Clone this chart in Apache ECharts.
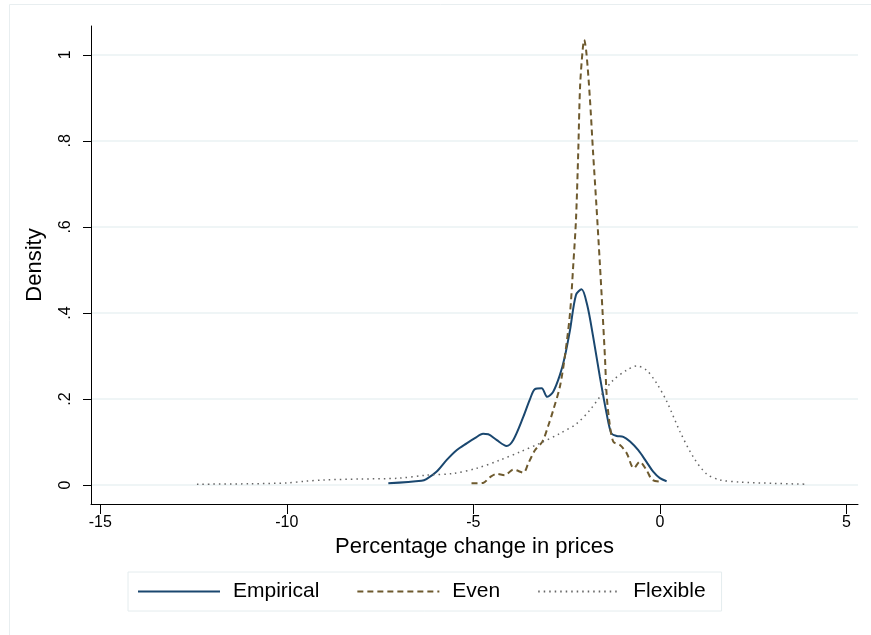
<!DOCTYPE html>
<html><head><meta charset="utf-8">
<script src="https://cdn.jsdelivr.net/npm/echarts@6/dist/echarts.min.js"></script>
<style>html,body{margin:0;padding:0;background:#fff}#c{width:871px;height:635px}</style>
</head><body><div id="c"></div>
<script>
const xTicks = [-15, -10, -5, 0, 5];
const yTicks = [0, 0.2, 0.4, 0.6, 0.8, 1];
const empirical = [
 [-7.28,0.004],[-6.39,0.010],[-6.26,0.014],[-5.99,0.031],[-5.72,0.058],[-5.45,0.081],[-5.18,0.097],
 [-4.96,0.109],[-4.74,0.119],[-4.60,0.118],[-4.38,0.105],[-4.11,0.091],[-3.93,0.105],[-3.66,0.159],
 [-3.49,0.198],[-3.35,0.223],[-3.17,0.225],[-3.02,0.205],[-2.86,0.217],[-2.68,0.256],[-2.55,0.298],
 [-2.41,0.360],[-2.25,0.442],[-2.10,0.455],[-1.95,0.419],[-1.79,0.345],[-1.61,0.252],[-1.43,0.167],
 [-1.30,0.120],[-1.16,0.114],[-0.98,0.112],[-0.80,0.101],[-0.58,0.081],[-0.36,0.054],[-0.18,0.031],
 [0.00,0.016],[0.18,0.009]
];
const even = [
 [-5.05,0.004],[-4.74,0.005],[-4.56,0.018],[-4.38,0.026],[-4.16,0.023],[-3.93,0.036],[-3.66,0.029],
 [-3.53,0.050],[-3.35,0.081],[-3.15,0.101],[-3.00,0.136],[-2.86,0.174],[-2.68,0.229],[-2.55,0.298],
 [-2.41,0.399],[-2.32,0.515],[-2.25,0.616],[-2.19,0.771],[-2.14,0.926],[-2.07,1.012],[-2.03,1.035],
 [-1.97,1.004],[-1.88,0.903],[-1.79,0.771],[-1.70,0.647],[-1.61,0.515],[-1.54,0.407],[-1.47,0.291],
 [-1.43,0.213],[-1.36,0.151],[-1.25,0.101],[-1.07,0.093],[-0.89,0.074],[-0.70,0.039],[-0.54,0.054],
 [-0.36,0.035],[-0.20,0.012],[0.05,0.008]
];
const flexible = [
 [-12.41,0.002],[-11.0,0.003],[-10.0,0.005],[-9.5,0.009],[-9.0,0.012],[-8.04,0.014],[-7.0,0.016],
 [-6.26,0.023],[-5.54,0.027],[-4.91,0.039],[-4.29,0.058],[-3.75,0.077],[-3.22,0.097],[-2.68,0.120],
 [-2.23,0.143],[-1.88,0.174],[-1.61,0.205],[-1.25,0.244],[-0.89,0.267],[-0.62,0.277],[-0.36,0.267],
 [-0.09,0.237],[0.18,0.195],[0.54,0.124],[0.89,0.066],[1.25,0.026],[1.61,0.012],[2.14,0.007],
 [3.04,0.004],[3.93,0.002]
];
const seriesNames = ['Empirical','Even','Flexible'];
const FONT = '"Liberation Sans", Arial, Helvetica, sans-serif';
const chart = echarts.init(document.getElementById('c'), null, {renderer:'canvas'});
const fmtY = v => v === 0 ? '0' : (v === 1 ? '1' : String(v).replace(/^0/, ''));
chart.setOption({
  animation:false,
  backgroundColor:'#fff',
  graphic:[{type:'rect', left:7, top:2, shape:{width:900, height:700}, style:{fill:'none', stroke:'#e8eef0', lineWidth:1}, z:-1}],
  grid:{left:91, top:26, right:13, bottom:131, containLabel:false},
  xAxis:{type:'value', min:-15.25, max:5.31,
    name:'Percentage change in prices', nameLocation:'middle', nameGap:24,
    nameTextStyle:{fontFamily:FONT, fontSize:22, color:'#000'},
    axisLine:{show:true, onZero:false, lineStyle:{color:'#000', width:1}},
    axisTick:{show:true, length:10, lineStyle:{color:'#000'}, customValues:xTicks},
    axisLabel:{fontFamily:FONT, fontSize:16, color:'#000', margin:11, customValues:xTicks},
    splitLine:{show:false}},
  yAxis:{type:'value', min:-0.044, max:1.067,
    name:'Density', nameLocation:'middle', nameGap:45, nameRotate:90,
    nameTextStyle:{fontFamily:FONT, fontSize:22, color:'#000'},
    axisLine:{show:true, onZero:false, lineStyle:{color:'#000', width:1}},
    axisTick:{show:true, length:8, lineStyle:{color:'#000'}, customValues:yTicks},
    axisLabel:{fontFamily:FONT, fontSize:16, color:'#000', margin:17, rotate:90, formatter:fmtY, customValues:yTicks},
    splitLine:{show:true, lineStyle:{color:'#eaf2f3', width:1.5}}},
  legend:{left:128, top:572, itemWidth:82, itemHeight:14, itemGap:37,
    padding:[9,16,9,9], borderColor:'#e4ecee', borderWidth:1,
    itemStyle:{opacity:0},
    textStyle:{fontFamily:FONT, fontSize:21, color:'#000', padding:[0,0,0,8]},
    data:seriesNames},
  series:[
    {name:seriesNames[0], type:'line', data:empirical, symbol:'none', smooth:0.3,
      lineStyle:{color:'#1a476f', width:2}, itemStyle:{color:'#1a476f'}},
    {name:seriesNames[1], type:'line', data:even, symbol:'none', smooth:0.3,
      lineStyle:{color:'#6e5a2e', width:2, type:[6,4]}, itemStyle:{color:'#6e5a2e'}},
    {name:seriesNames[2], type:'line', data:flexible, symbol:'none', smooth:0.3,
      lineStyle:{color:'#666', width:1.5, type:[1.5,4]}, itemStyle:{color:'#666'}}
  ]
});
</script></body></html>
